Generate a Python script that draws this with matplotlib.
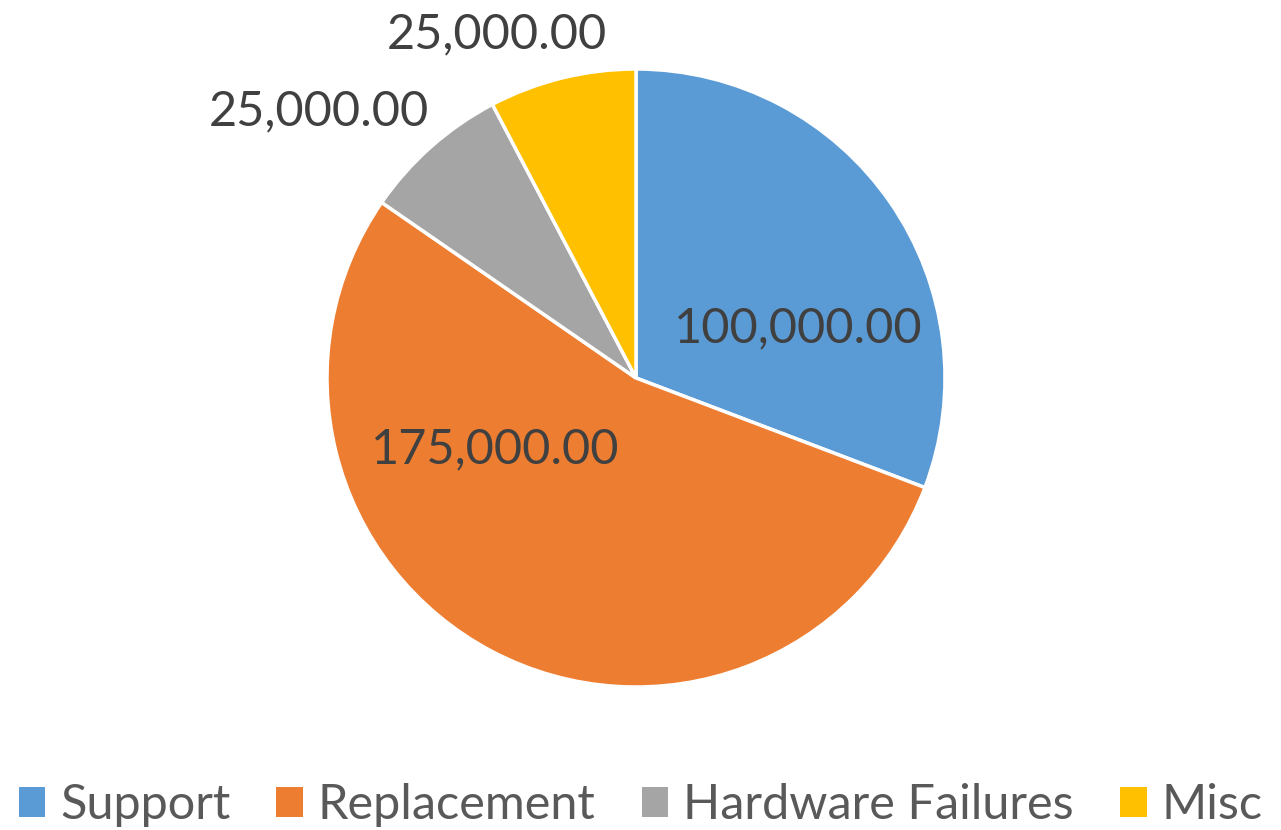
import numpy as np
import matplotlib.pyplot as plt
from matplotlib.patches import Patch

categories = ["Support", "Replacement", "Hardware Failures", "Misc"]
values = [100000, 175000, 25000, 25000]
colors = ["#5B9BD5", "#ED7D31", "#A5A5A5", "#FFC000"]
# label placement (radius, angle in degrees)
label_pos = [(0.55, 17), (0.51, 207), (1.34, 140), (1.20, 112)]

plt.rcParams['font.family'] = ['Lato', 'DejaVu Sans']

fig = plt.figure(figsize=(12.81, 8.30), dpi=100)
ax = fig.add_axes([327 / 1281, 143 / 830, 618 / 1281, 618 / 830])

wedges, _ = ax.pie(values, colors=colors, startangle=90, counterclock=False,
                   radius=1, wedgeprops=dict(edgecolor="white", linewidth=2.5))
ax.set_xlim(-1, 1)
ax.set_ylim(-1, 1)
ax.axis("off")

for v, (r, a) in zip(values, label_pos):
    x = r * np.cos(np.radians(a))
    y = r * np.sin(np.radians(a))
    ax.text(x, y, f"{v:,.2f}", ha="center", va="center",
            fontsize=35, color="#404040", clip_on=False)

handles = [Patch(facecolor=c, edgecolor="none") for c in colors]
fig.legend(handles, categories, loc="center", bbox_to_anchor=(0.5, 0.03),
           ncol=4, frameon=False, fontsize=35, labelcolor="#595959",
           handlelength=0.55, handleheight=0.55, handletextpad=0.3,
           columnspacing=0.95, borderpad=0, borderaxespad=0)

fig.savefig("out.png", dpi=100)
